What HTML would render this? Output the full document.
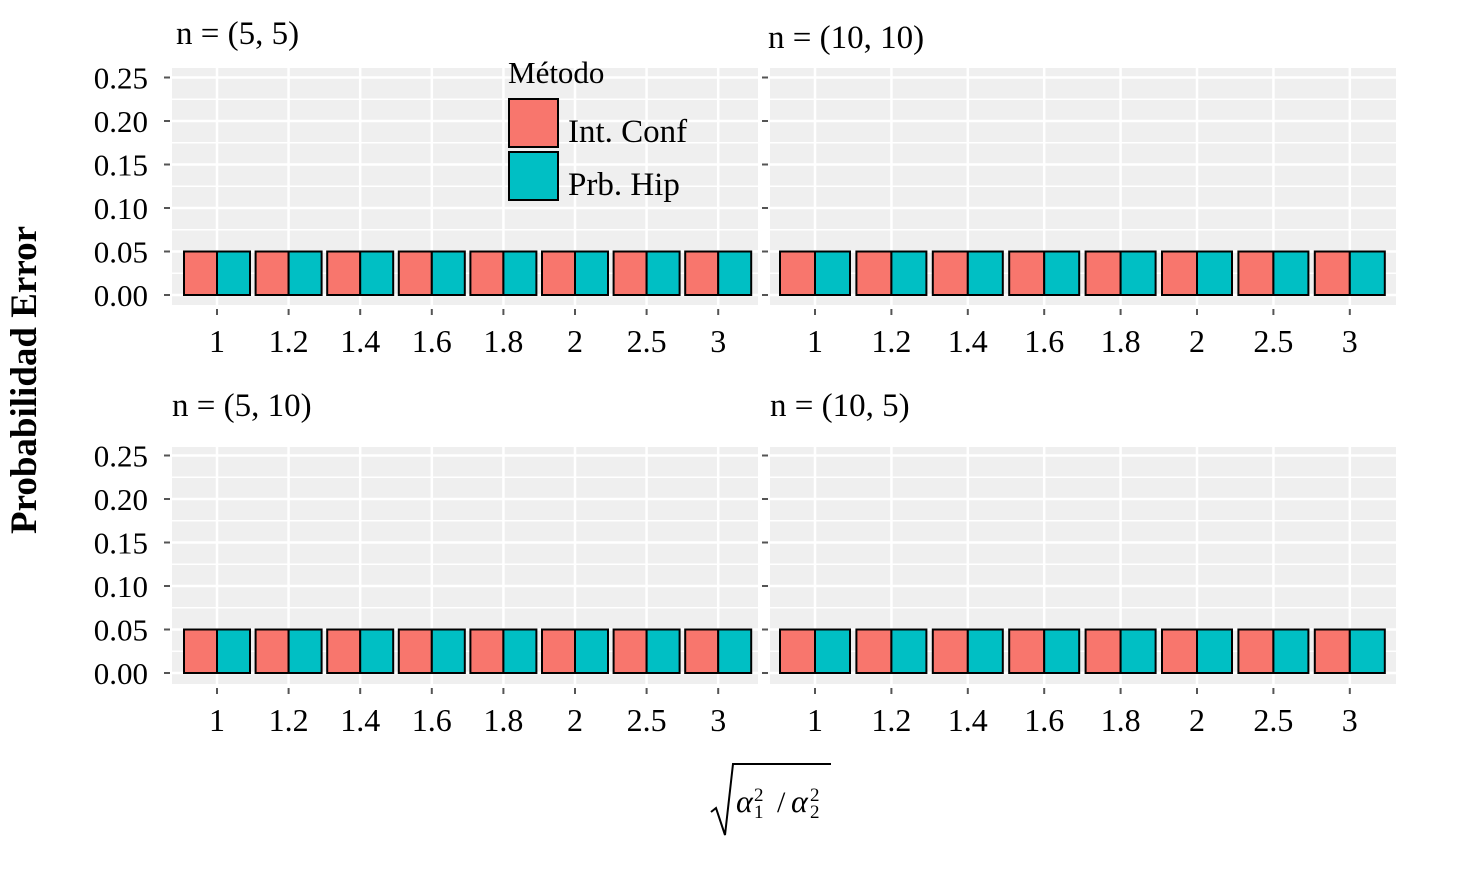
<!DOCTYPE html>
<html><head><meta charset="utf-8"><style>
body{margin:0;background:#fff}
svg{display:block;font-family:"Liberation Serif",serif}
</style></head><body>
<svg id="c" width="1469" height="878"></svg>
<script>
const categories=["1","1.2","1.4","1.6","1.8","2","2.5","3"];
const intConf=[0.05,0.05,0.05,0.05,0.05,0.05,0.05,0.05];
const prbHip=[0.05,0.05,0.05,0.05,0.05,0.05,0.05,0.05];
const yTicks=[0,0.05,0.10,0.15,0.20,0.25];
const yTickLabels=["0.00","0.05","0.10","0.15","0.20","0.25"];
const panelTitles=["n = (5, 5)","n = (10, 10)","n = (5, 10)","n = (10, 5)"];
const NS="http://www.w3.org/2000/svg";
const svg=document.getElementById('c');
function mk(tag,attrs,parent){const e=document.createElementNS(NS,tag);for(const k in attrs)e.setAttribute(k,attrs[k]);(parent||svg).appendChild(e);return e;}
const panels=[
 {x0:172,x1:758,top:68,bot:305,y0:295,step:71.6,c0:217,bw:66,tx:176,ty:44,lab:true},
 {x0:770,x1:1396,top:68,bot:305,y0:295,step:76.4,c0:815,bw:70,tx:768,ty:48,lab:false},
 {x0:172,x1:758,top:447,bot:684,y0:673,step:71.6,c0:217,bw:66,tx:172,ty:416,lab:true},
 {x0:770,x1:1396,top:447,bot:684,y0:673,step:76.4,c0:815,bw:70,tx:770,ty:416,lab:false}
];
panels.forEach((p,pi)=>{
 const g=mk('g',{});
 
 
 const yS=v=>p.y0-v/0.05*43.5;
 const xS=i=>p.c0+i*p.step;
 mk('rect',{x:p.x0,y:p.top,width:p.x1-p.x0,height:p.bot-p.top,fill:'#efefef'},g);
 for(let i=0;i<yTicks.length-1;i++){const y=yS(yTicks[i]+0.025);mk('line',{x1:p.x0,x2:p.x1,y1:y,y2:y,stroke:'#fff','stroke-width':1.5},g);}
 yTicks.forEach(v=>{const y=yS(v);mk('line',{x1:p.x0,x2:p.x1,y1:y,y2:y,stroke:'#fff','stroke-width':2.5},g);});
 categories.forEach((c,i)=>{const x=xS(i);mk('line',{x1:x,x2:x,y1:p.top,y2:p.bot,stroke:'#fff','stroke-width':2.5},g);});
 yTicks.forEach((v,i)=>{const y=yS(v);mk('line',{x1:p.x0-8,x2:p.x0-2,y1:y,y2:y,stroke:'#555','stroke-width':2},g);
  if(p.lab){const t=mk('text',{x:p.x0-24,y:y+11,'text-anchor':'end','font-size':31,fill:'#000'},g);t.textContent=yTickLabels[i];
   
   }});
 categories.forEach((c,i)=>{const x=xS(i);const h=p.bw/2;
  const r1=mk('rect',{x:x-h,y:yS(intConf[i]),width:h,height:yS(0)-yS(intConf[i]),fill:'#f8766d',stroke:'#000','stroke-width':2},g);
  
  
  const r2=mk('rect',{x:x,y:yS(prbHip[i]),width:h,height:yS(0)-yS(prbHip[i]),fill:'#00bfc4',stroke:'#000','stroke-width':2},g);
  
  
  mk('line',{x1:x,x2:x,y1:p.bot+4,y2:p.bot+10,stroke:'#555','stroke-width':2},g);
  const t=mk('text',{x:x,y:p.bot+47,'text-anchor':'middle','font-size':32,fill:'#000'},g);t.textContent=c;
  
  
 });
 const tt=mk('text',{x:p.tx,y:p.ty,'font-size':33,fill:'#000'},g);tt.textContent=panelTitles[pi];
 
 
});
</script>
<svg style="position:absolute;left:0;top:0" width="1469" height="878">
 <g font-family="Liberation Serif, serif">
  <text x="508" y="83" font-size="31">Método</text>
  <rect x="509" y="99" width="49" height="48" fill="#f8766d" stroke="#000" stroke-width="2"/>
  <text x="568" y="142" font-size="33">Int. Conf</text>
  <rect x="509" y="152" width="49" height="48" fill="#00bfc4" stroke="#000" stroke-width="2"/>
  <text x="568" y="195" font-size="33">Prb. Hip</text>
 </g>
 <text transform="translate(36,380) rotate(-90)" text-anchor="middle" font-family="Liberation Serif, serif" font-weight="bold" font-size="37">Probabilidad Error</text>
 <g font-family="Liberation Serif, serif" font-style="italic">
  <path d="M711,812 L716,808 L725,835 L733,764 L831,764" fill="none" stroke="#000" stroke-width="2"/>
  <text x="736" y="812" font-size="32">α</text><text x="754" y="801" font-size="19" font-style="normal">2</text><text x="754" y="818" font-size="19" font-style="normal">1</text>
  <text x="777" y="812" font-size="30" font-style="normal">/</text>
  <text x="791" y="812" font-size="32">α</text><text x="810" y="801" font-size="19" font-style="normal">2</text><text x="810" y="818" font-size="19" font-style="normal">2</text>
 </g>
</svg>
</body></html>
